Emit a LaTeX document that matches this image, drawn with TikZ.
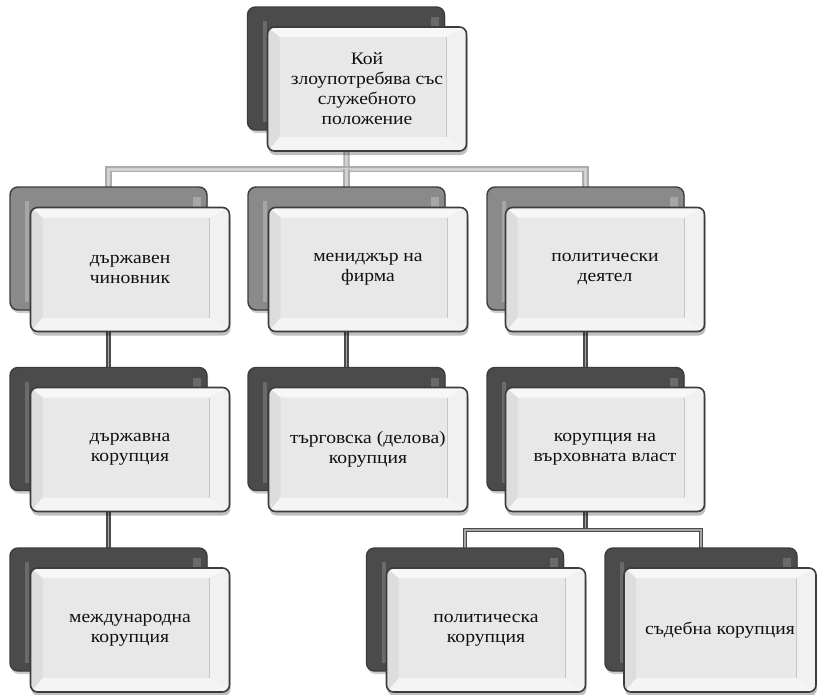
\documentclass[tikz,border=0pt]{standalone}
\usepackage{fontspec}
\setmainfont{Liberation Serif}[FakeStretch=1.12]
\usetikzlibrary{shadows,backgrounds,calc}
\definecolor{edgec}{HTML}{3C3C3C}
\definecolor{facec}{HTML}{E8E8E8}
\definecolor{bevtop}{HTML}{F7F7F7}
\definecolor{bevleft}{HTML}{DDDDDD}
\definecolor{bevright}{HTML}{F1F1F1}
\definecolor{bevbot}{HTML}{F4F4F4}
\definecolor{darkback}{HTML}{4B4B4B}
\definecolor{darkstrip}{HTML}{6A6A6A}
\definecolor{lightback}{HTML}{8A8A8A}
\definecolor{lightstrip}{HTML}{A6A6A6}
\definecolor{textc}{HTML}{111111}
\tikzset{
  frontbox/.style={rectangle, rounded corners=7pt, draw=edgec, line width=1.6pt,
    fill=facec, minimum width=199pt, minimum height=124pt, inner sep=0pt,
    align=center, text=textc, font=\fontsize{17.5}{20}\selectfont,
    drop shadow={shadow xshift=1pt, shadow yshift=-4pt, opacity=0.25, fill=black},
    path picture={
      \coordinate (pNW) at (path picture bounding box.north west);
      \coordinate (pSE) at (path picture bounding box.south east);
      \coordinate (pNE) at (pSE |- pNW);
      \coordinate (pSW) at (pNW |- pSE);
      \coordinate (qNW) at ($(pNW)+(12pt,-10pt)$);
      \coordinate (qSE) at ($(pSE)+(-20pt,14pt)$);
      \coordinate (qNE) at (qSE |- qNW);
      \coordinate (qSW) at (qNW |- qSE);
      \fill[bevtop, sharp corners] (pNW)--(pNE)--(qNE)--(qNW)--cycle;
      \fill[bevright, sharp corners] (pNE)--(pSE)--(qSE)--(qNE)--cycle;
      \fill[bevbot, sharp corners] (pSE)--(pSW)--(qSW)--(qSE)--cycle;
      \fill[bevleft, sharp corners] (pSW)--(pNW)--(qNW)--(qSW)--cycle;
      \fill[facec, sharp corners] (qNW) rectangle (qSE);
      \draw[gray!45, line width=0.8pt] (qNE) -- (qSE);
    }},
  frontsmall/.style={frontbox, minimum width=192pt},
  backbox/.style={rectangle, rounded corners=8pt, draw=edgec, line width=1.4pt,
    fill=#1back, minimum width=197pt, minimum height=123pt, inner sep=0pt,
    drop shadow={shadow xshift=1pt, shadow yshift=-3pt, opacity=0.2, fill=black},
    path picture={
      \coordinate (bNW) at (path picture bounding box.north west);
      \coordinate (bSW) at (path picture bounding box.south west);
      \coordinate (bNE) at (path picture bounding box.north east);
      \fill[#1strip, sharp corners] ($(bNW)+(15pt,-14pt)$) rectangle ($(bSW)+(19pt,8pt)$);
      \fill[#1strip, sharp corners] ($(bNE)+(-14pt,-10pt)$) rectangle ($(bNE)+(-6pt,-30pt)$);
    }},
  conntop/.style={draw=gray!65, double=gray!35, double distance=3pt, line width=1.6pt},
  connlow/.style={draw=darkback, double=gray!70, double distance=1.2pt, line width=1.8pt},
}
\begin{document}
\begin{tikzpicture}[x=1pt,y=-1pt]
\useasboundingbox (0,0) rectangle (817,694);

% top
\node[backbox=dark] (topb) at (346,68.5) {};
\node[frontbox] (top) at (367,89) {Кой\\злоупотребява със\\служебното\\положение};

% level 1
\node[backbox=light] (l1ab) at (108.5,248.5) {};
\node[frontbox] (l1a) at (130,269.5) {държавен\\чиновник};
\node[backbox=light] (l1bb) at (346.5,248.5) {};
\node[frontbox] (l1b) at (368,269.5) {мениджър на\\фирма};
\node[backbox=light] (l1cb) at (585.5,248.5) {};
\node[frontbox] (l1c) at (605,269.5) {политически\\деятел};

% level 2
\node[backbox=dark] (l2ab) at (108.5,429) {};
\node[frontbox] (l2a) at (130,449.5) {държавна\\корупция};
\node[backbox=dark] (l2bb) at (346.5,429) {};
\node[frontbox] (l2b) at (368,449.5) {търговска (делова)\\корупция};
\node[backbox=dark] (l2cb) at (585.5,429) {};
\node[frontbox] (l2c) at (605,449.5) {корупция на\\върховната власт};

% level 3
\node[backbox=dark] (l3ab) at (108.5,609.5) {};
\node[frontbox] (l3a) at (130,630) {международна\\корупция};
\node[backbox=dark] (l3bb) at (465,609.5) {};
\node[frontbox] (l3b) at (486,630) {политическа\\корупция};
\node[backbox=dark, minimum width=192pt] (l3cb) at (701,609.5) {};
\node[frontsmall] (l3c) at (720,630) {съдебна корупция};

\coordinate (bus1) at (346.5,169);
\coordinate (bus2) at (585.5,530);
\begin{pgfonlayer}{background}
  \fill[white] (0,0) rectangle (817,694);
  \draw[conntop] (topb.center) -- (bus1);
  \draw[conntop] (l1ab.center) |- (bus1) -| (l1cb.center);
  \draw[conntop] (bus1) -- (l1bb.center);
  \draw[connlow] (l1ab.center) -- (l2ab.center);
  \draw[connlow] (l1bb.center) -- (l2bb.center);
  \draw[connlow] (l1cb.center) -- (l2cb.center);
  \draw[connlow] (l2ab.center) -- (l3ab.center);
  \draw[connlow] (l2cb.center) -- (bus2);
  \draw[connlow] (l3bb.center) |- (bus2) -| (l3cb.center);
\end{pgfonlayer}
\end{tikzpicture}
\end{document}
